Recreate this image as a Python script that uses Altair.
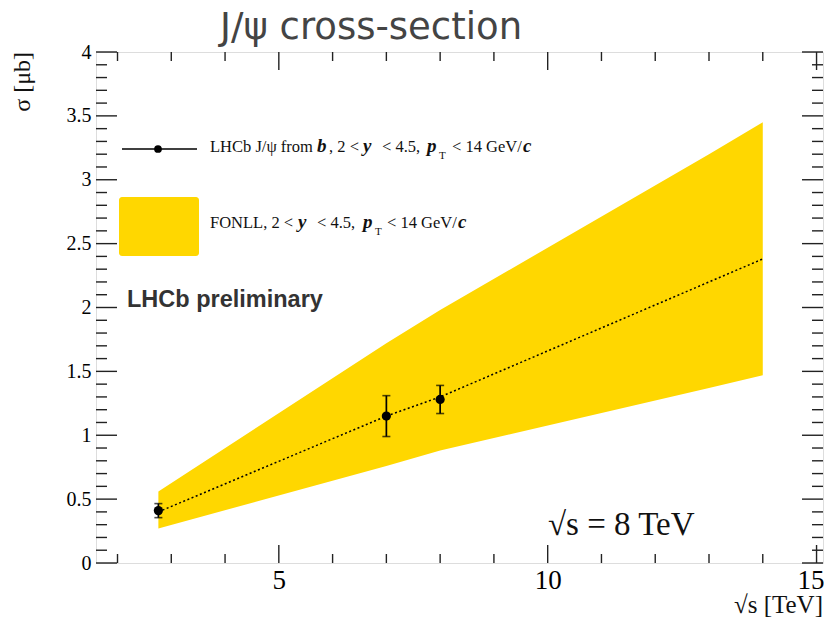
import altair as alt
import pandas as pd
import numpy as np

# ---------------- data ----------------
lhcb_sqrt_s = [2.76, 7.0, 8.0]
lhcb_sigma = [0.41, 1.15, 1.28]
lhcb_err_lo = [0.055, 0.16, 0.11]
lhcb_err_hi = [0.055, 0.16, 0.11]

fonll_sqrt_s = [2.76, 7.0, 8.0, 13.0, 14.0]
fonll_central = [0.40, 1.15, 1.30, 2.20, 2.38]
fonll_low = [0.27, 0.76, 0.88, 1.37, 1.47]
fonll_high = [0.56, 1.72, 1.98, 3.20, 3.45]

x_major = [5, 10, 15]
x_minor = [2, 3, 4, 6, 7, 8, 9, 11, 12, 13, 14]
y_major = [0, 0.5, 1, 1.5, 2, 2.5, 3, 3.5, 4]
y_minor = [round(v, 1) for v in np.arange(0.1, 4.0, 0.1) if abs(v * 2 - round(v * 2)) > 1e-6]

title_text = "J/ψ cross-section"
prelim_text = "LHCb preliminary"
energy_text = "√s = 8 TeV"
x_title = "√s [TeV]"
y_title = "σ [μb]"

# ---------------- layout ----------------
W, H = 727, 511
SERIF = "Liberation Serif"
GOLD = "#FFD700"

lhcb = pd.DataFrame({
    "x": lhcb_sqrt_s, "y": lhcb_sigma,
    "lo": [s - e for s, e in zip(lhcb_sigma, lhcb_err_lo)],
    "hi": [s + e for s, e in zip(lhcb_sigma, lhcb_err_hi)],
})
fonll = pd.DataFrame({"x": fonll_sqrt_s, "c": fonll_central, "lo": fonll_low, "hi": fonll_high})

xscale = alt.Scale(domain=[1.6, 15.12], nice=False, zero=False)
yscale = alt.Scale(domain=[0, 4], nice=False, zero=False)
xaxis = alt.Axis(values=x_major, ticks=False, domain=False, grid=False, labelFont=SERIF,
                 labelFontSize=27, labelPadding=4, labelColor="black", labelFlush=False,
                 labelOffset={"condition": {"test": "datum.value == 15", "value": -6}, "value": 0},
                 title=None)
yaxis = alt.Axis(values=y_major, labelExpr="datum.value + ''", ticks=False, domain=False, grid=False,
                 labelFont=SERIF, labelFontSize=20, labelPadding=5, labelColor="black", title=None)


def X(f):
    return alt.X(f, type="quantitative", scale=xscale, axis=xaxis, title=None)


def Y(f):
    return alt.Y(f, type="quantitative", scale=yscale, axis=yaxis, title=None)


band = alt.Chart(fonll).mark_area(color=GOLD, opacity=1).encode(x=X("x"), y=Y("lo"), y2="hi")
central = alt.Chart(fonll).mark_line(color="black", strokeWidth=1.5, strokeDash=[2, 2.5]).encode(
    x=X("x"), y=Y("c"))
err = alt.Chart(lhcb).mark_rule(color="black", strokeWidth=1.7).encode(x=X("x"), y=Y("lo"), y2="hi")
cap_lo = alt.Chart(lhcb).mark_tick(color="black", orient="horizontal", size=8, thickness=1.6).encode(
    x=X("x"), y=Y("lo"))
cap_hi = alt.Chart(lhcb).mark_tick(color="black", orient="horizontal", size=8, thickness=1.6).encode(
    x=X("x"), y=Y("hi"))
pts = alt.Chart(lhcb).mark_circle(color="black", size=85, opacity=1).encode(x=X("x"), y=Y("y"))


# frame ticks (inward, on all four sides)
def yticks(vals, length):
    d = pd.DataFrame({"v": vals})
    left = alt.Chart(d).mark_rule(color="#222", strokeWidth=1.4).encode(
        y=Y("v"), x=alt.value(0), x2=alt.value(length))
    right = alt.Chart(d).mark_rule(color="#222", strokeWidth=1.4).encode(
        y=Y("v"), x=alt.value(W - length), x2=alt.value(W))
    return [left, right]


def xticks(vals, length):
    d = pd.DataFrame({"v": vals})
    bottom = alt.Chart(d).mark_rule(color="#222", strokeWidth=1.4).encode(
        x=X("v"), y=alt.value(H - length), y2=alt.value(H))
    top = alt.Chart(d).mark_rule(color="#222", strokeWidth=1.4).encode(
        x=X("v"), y=alt.value(0), y2=alt.value(length))
    return [bottom, top]


tick_layers = yticks(y_major, 21) + yticks(y_minor, 11) + xticks(x_major, 18) + xticks(x_minor, 9)

one = pd.DataFrame({"a": [1]})


def label(txt, x, y, size, font=SERIF, style="normal", weight="normal", color="#111",
          align="left", angle=0):
    return alt.Chart(one).mark_text(text=txt, font=font, fontSize=size, fontStyle=style,
                                    fontWeight=weight, color=color, align=align,
                                    baseline="alphabetic", angle=angle).encode(
        x=alt.value(x), y=alt.value(y))


def legend_line(segments, base):
    out = []
    for txt, x, kind in segments:
        if kind == "n":
            out.append(label(txt, x - 96, base, 16.5))
        elif kind == "bi":
            out.append(label(txt, x - 96, base, 19, style="italic", weight="bold"))
        else:
            out.append(label(txt, x - 96, base + 7, 11))
    return out


line1 = [("LHCb J/ψ from", 210, "n"), ("b", 317, "bi"), (", 2 <", 329, "n"), ("y", 363, "bi"),
         ("<  4.5,", 382, "n"), ("p", 427, "bi"), ("T", 439, "s"), ("< 14 GeV/", 452, "n"),
         ("c", 523, "bi")]
line2 = [("FONLL, 2 <", 210, "n"), ("y", 298, "bi"), ("<  4.5,", 317, "n"), ("p", 363, "bi"),
         ("T", 375, "s"), ("< 14 GeV/", 387, "n"), ("c", 458, "bi")]

legend_sym = [
    alt.Chart(one).mark_rule(color="black", strokeWidth=1.5).encode(
        x=alt.value(26), x2=alt.value(101), y=alt.value(97)),
    alt.Chart(one).mark_circle(color="black", size=60, opacity=1).encode(
        x=alt.value(62), y=alt.value(97)),
    alt.Chart(one).mark_rect(color=GOLD, cornerRadius=3).encode(
        x=alt.value(23), x2=alt.value(103), y=alt.value(145), y2=alt.value(204)),
]

texts = [
    label(title_text, 124, -13, 37, font="DejaVu Sans", color="#444"),
    label(prelim_text, 31, 255, 23.5, font="Liberation Sans", weight="bold", color="#333"),
    label(energy_text, 452, 483, 33),
    label(x_title, 727, 561, 25, align="right"),
    label(y_title, -66, 0, 24, align="right", angle=270),
]

chart = alt.layer(
    band, central, err, cap_lo, cap_hi, pts, *tick_layers, *legend_sym,
    *legend_line(line1, 100), *legend_line(line2, 176), *texts
).properties(
    width=W, height=H,
    padding={"left": 88, "top": 44, "right": 1, "bottom": 56},
    autosize=alt.AutoSizeParams(type="none"),
).configure_view(stroke="#222", strokeWidth=1.6).configure(background="white")

chart.save("out.html", embed_options={"renderer": "svg", "actions": False})
